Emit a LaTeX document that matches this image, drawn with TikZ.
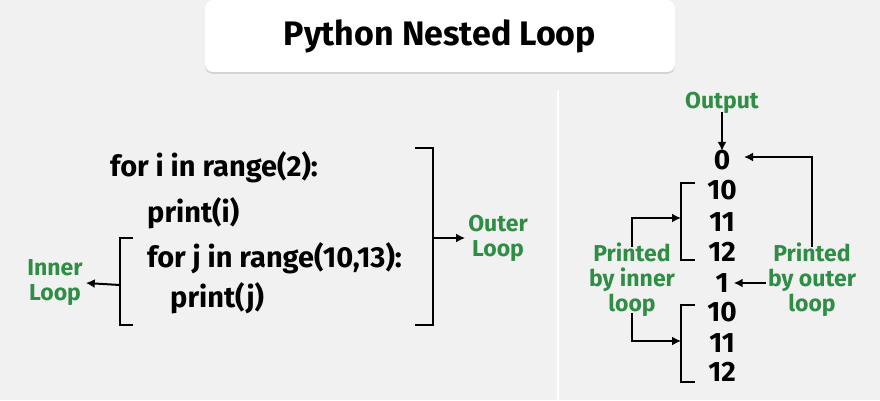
\documentclass[tikz,border=0pt]{standalone}
\usepackage{fontspec}
\setmainfont{Fira Sans}
\usetikzlibrary{shadows,arrows.meta}
\definecolor{gfgreen}{HTML}{2F8D46}
\definecolor{bgray}{HTML}{F1F1F1}
\begin{document}
\begin{tikzpicture}[x=1pt,y=-1pt,
  code/.style={font=\fontsize{29}{32}\selectfont\bfseries, anchor=west, inner sep=0pt},
  num/.style={font=\fontsize{28}{30}\selectfont\bfseries, inner sep=1pt},
  lbl/.style={font=\fontsize{23}{25}\selectfont\bfseries, text=gfgreen, align=center, inner sep=0pt},
  brk/.style={line width=2pt},
  arr/.style={line width=2pt,-{Latex[length=9pt,width=9pt]}}]
\fill[bgray] (0,0) rectangle (880,400);
\draw[white,line width=2pt] (558,90) -- (558,400);
% title
\node[fill=white,rounded corners=8pt,drop shadow={opacity=.25,shadow xshift=0pt,shadow yshift=-2pt},
  minimum width=470pt,minimum height=72pt,font=\fontsize{34}{38}\selectfont\bfseries] (title) at (440,36) {Python Nested Loop};
% code
\node[code] (l1) at (110,167) {for i in range(2):};
\node[code] (l2) at (147,213) {print(i)};
\node[code] (l3) at (147,258) {for j in range(10,13):};
\node[code] (l4) at (170,298) {print(j)};
\draw[brk] (415,148) -- (433,148) -- (433,325) -- (415,325);
\draw[brk] (133,238) -- (120,238) -- (120,325) -- (133,325);
\coordinate (ob) at (433,238);
\coordinate (ib) at (120,285);
\node[lbl] (outer) at (498,238) {Outer\\Loop};
\node[lbl] (inner) at (55,283) {Inner\\Loop};
\draw[arr] (ob) -- ([xshift=-3pt]outer.west);
\draw[arr] (ib) -- ([xshift=3pt]inner.east);
% output
\node[lbl] (out) at (722,103) {Output};
\node[num] (n0) at (722,160) {0};
\node[num] (a1) at (722,190) {10};
\node[num] (a2) at (722,222) {11};
\node[num] (a3) at (722,252) {12};
\node[num] (n1) at (722,283) {1};
\node[num] (b1) at (722,312) {10};
\node[num] (b2) at (722,343) {11};
\node[num] (b3) at (722,372) {12};
\draw[arr] ([yshift=2pt]out.south) -- ([yshift=-2pt]n0.north);
\draw[brk] (695,183) -- (681,183) -- (681,260) -- (695,260);
\draw[brk] (695,305) -- (681,305) -- (681,382) -- (695,382);
\node[lbl] (pin) at (632,280) {Printed\\by inner\\loop};
\node[lbl] (pout) at (812,280) {Printed\\by outer\\loop};
\coordinate (ta) at (681,218);
\coordinate (tb) at (681,341);
\coordinate (t0) at (744,157);
\draw[arr] ([yshift=-4pt]pin.north) |- (ta);
\draw[arr] ([yshift=4pt]pin.south) |- (tb);
\draw[arr] ([yshift=-4pt]pout.north) |- (t0);
\draw[arr] ([xshift=-2pt]pout.west |- n1) -- ([xshift=4pt]n1.east);
\end{tikzpicture}
\end{document}
